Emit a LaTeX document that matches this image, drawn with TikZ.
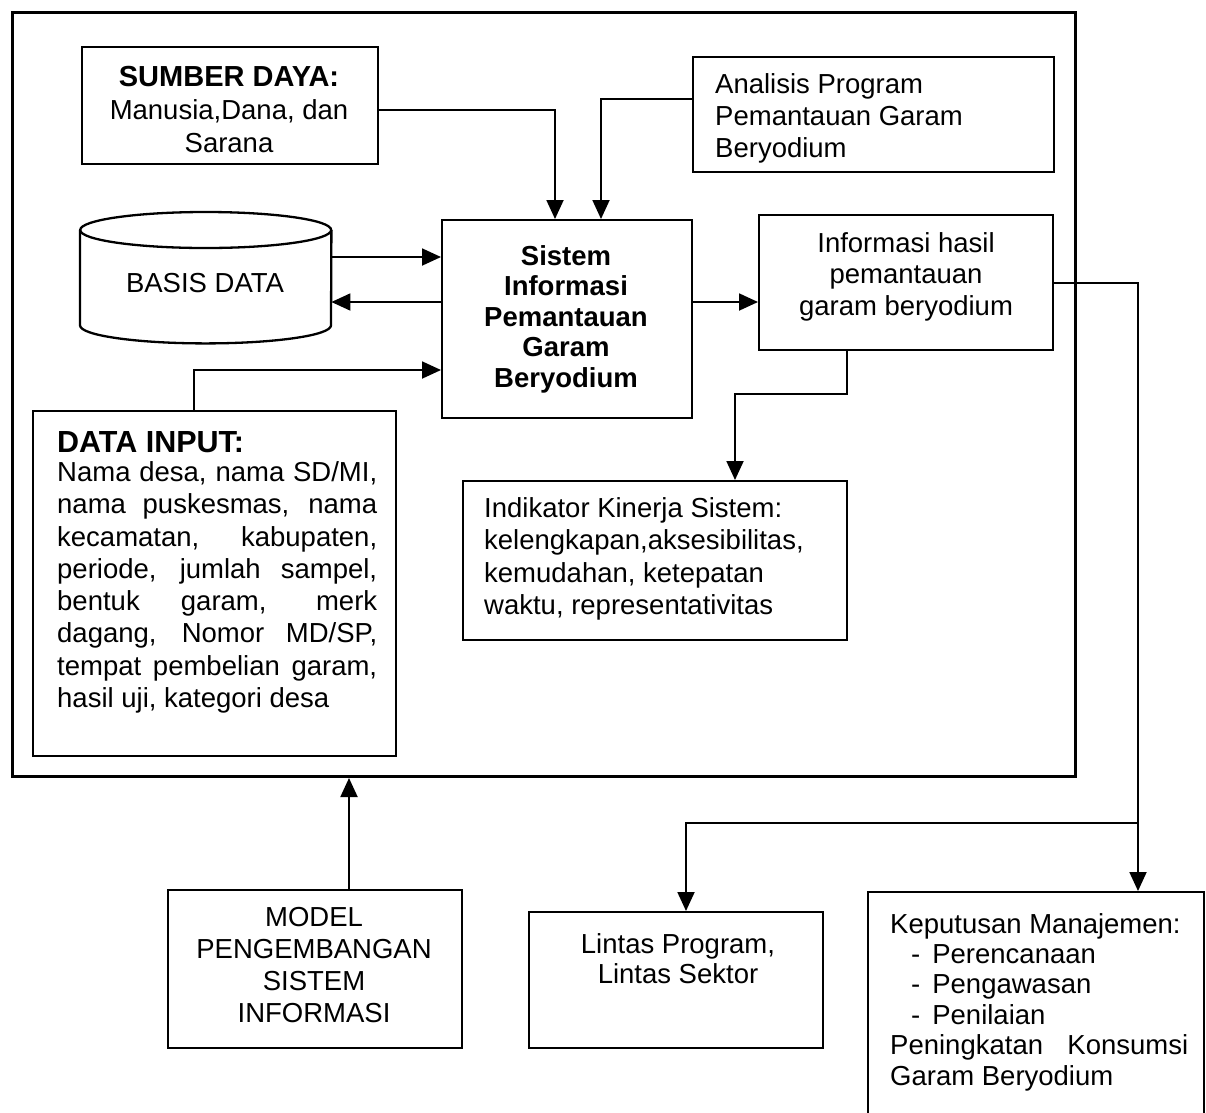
\documentclass[tikz,border=0pt]{standalone}
\usepackage{fontspec}
\setmainfont{Liberation Sans}
\usetikzlibrary{arrows.meta,calc}
\begin{document}
\begin{tikzpicture}[x=1pt,y=-1pt,
  box/.style={draw, line width=2.3pt, rectangle, inner sep=0pt, anchor=north west},
  txt/.style={inner sep=0pt},
  conn/.style={line width=1.9pt},
  arr/.style={conn, -{Triangle[length=19pt,width=17pt]}},
]
\clip (0,0) rectangle (1206,1112);
\fill[white] (0,0) rectangle (1206,1112);

% outer frame around the information system
\node[draw, line width=3pt, inner sep=0pt, anchor=north west,
      minimum width=1063pt, minimum height=764pt] (frame) at (11,11) {};

% boxes
\node[box, minimum width=296pt, minimum height=117pt] (sumber) at (81,46) {};
\node[box, minimum width=361pt, minimum height=115pt] (anal) at (692,56) {};
\node[box, minimum width=250pt, minimum height=198pt] (sis) at (441,219) {};
\node[box, minimum width=294pt, minimum height=135pt] (inf) at (758,214) {};
\node[box, minimum width=363pt, minimum height=345pt] (datain) at (32,410) {};
\node[box, minimum width=384pt, minimum height=159pt] (ind) at (462,480) {};
\node[box, minimum width=294pt, minimum height=158pt] (model) at (167,889) {};
\node[box, minimum width=294pt, minimum height=136pt] (lintas) at (528,911) {};
\node[box, minimum width=336pt, minimum height=300pt] (kep) at (867,891) {};

% database cylinder
\node[inner sep=0pt, anchor=north west, minimum width=251pt, minimum height=131pt] (db) at (80,212) {};
\draw[line width=2.3pt]
  ($(db.north west)+(0,18)$) -- ($(db.south west)+(0,-18)$)
  arc[start angle=180, end angle=360, x radius=125.5pt, y radius=18pt]
  -- ($(db.north east)+(0,18)$);
\draw[line width=2.3pt] ($(db.north)+(0,18)$) ellipse [x radius=125.5pt, y radius=18pt];

% texts
\node[txt, align=center, font=\fontsize{27.5}{33}\selectfont] (sumber-t) at (229,110)
  {{\fontsize{29}{33}\selectfont\bfseries SUMBER DAYA:}\\Manusia,Dana, dan\\Sarana};
\node[txt, align=left, anchor=west, font=\fontsize{27.5}{32}\selectfont] (anal-t) at (715,118)
  {Analisis Program\\Pemantauan Garam\\Beryodium};
\node[txt, align=center, font=\bfseries\fontsize{27.5}{30.5}\selectfont] (sis-t) at (566,319)
  {Sistem\\Informasi\\Pemantauan\\Garam\\Beryodium};
\node[txt, font=\fontsize{27.5}{32}\selectfont] (db-t) at (205,283) {BASIS DATA};
\node[txt, align=center, font=\fontsize{27.5}{31.5}\selectfont] (inf-t) at (906,276.5)
  {Informasi hasil\\pemantauan\\garam beryodium};
\node[txt, align=left, anchor=west, font=\fontsize{27.5}{32.3}\selectfont] (ind-t) at (484,559)
  {Indikator Kinerja Sistem:\\kelengkapan,aksesibilitas,\\kemudahan, ketepatan\\waktu, representativitas};
\node[txt, align=justify, text width=320pt, anchor=north west,
      font=\fontsize{27.5}{32.3}\selectfont] (datain-t) at (57,431)
  {\tolerance=10000\hyphenpenalty=10000\exhyphenpenalty=10000
   {\fontsize{30.5}{30}\selectfont\bfseries DATA INPUT:}\\[-3pt]
   Nama desa, nama SD/MI,\linebreak
   nama puskesmas, nama\linebreak
   kecamatan, kabupaten,\linebreak
   periode, jumlah sampel,\linebreak
   bentuk garam, merk\linebreak
   dagang, Nomor MD/SP,\linebreak
   tempat pembelian garam,\linebreak
   hasil uji, kategori desa};
\node[txt, align=center, font=\fontsize{27.5}{32}\selectfont] (model-t) at (314,965)
  {MODEL\\PENGEMBANGAN\\SISTEM\\INFORMASI};
\node[txt, align=center, font=\fontsize{27.5}{30}\selectfont] (lintas-t) at (678,959)
  {Lintas Program,\\Lintas Sektor};
\node[txt, align=left, anchor=north west, font=\fontsize{27.5}{30.4}\selectfont] (kep-t) at (890,913)
  {Keputusan Manajemen:\\
   \hspace*{21pt}-\hspace{12pt}Perencanaan\\
   \hspace*{21pt}-\hspace{12pt}Pengawasan\\
   \hspace*{21pt}-\hspace{12pt}Penilaian\\
   \makebox[298pt][l]{Peningkatan\hfill Konsumsi}\\
   Garam Beryodium};

% connectors
\draw[arr] ($(sumber.north east)+(0,64)$) -| ($(sis.north west)+(114,0)$);
\draw[arr] ($(anal.north west)+(0,43)$) -| ($(sis.north west)+(160,0)$);
\draw[arr] ($(db.north east)+(0,45)$) -- ($(sis.north west)+(0,38)$);
\draw[arr] ($(sis.north west)+(0,83)$) -- ($(db.north east)+(0,90)$);
\draw[arr] ($(datain.north west)+(162,0)$) |- ($(sis.north west)+(0,151)$);
\draw[arr] ($(sis.north east)+(0,83)$) -- ($(inf.north west)+(0,88)$);
\draw[arr] ($(inf.south west)+(89,0)$) -- ++(0,43) -| ($(ind.north west)+(273,0)$);
\draw[arr] ($(inf.north east)+(0,69)$) -| ($(kep.north west)+(271,0)$);
\coordinate (split) at ($(kep.north west)+(271,-68)$);
\draw[arr] (split) -| ($(lintas.north west)+(158,0)$);
\coordinate (mtop) at ($(model.north west)+(182,0)$);
\draw[arr] (mtop) -- (mtop |- frame.south);
\end{tikzpicture}
\end{document}
